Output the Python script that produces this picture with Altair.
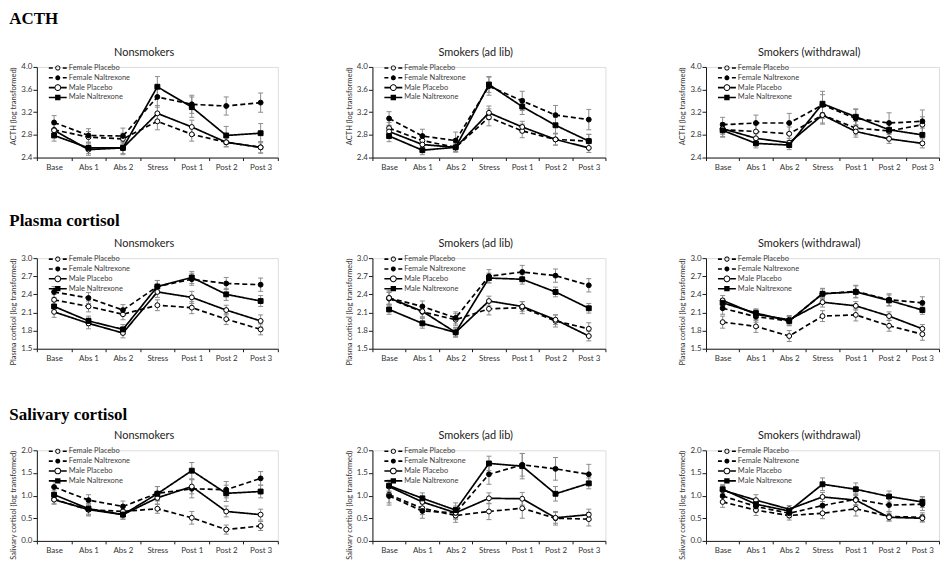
import math
import altair as alt
import pandas as pd

TIMES = ["Base", "Abs 1", "Abs 2", "Stress", "Post 1", "Post 2", "Post 3"]
SERIES = ["Female Placebo", "Female Naltrexone", "Male Placebo", "Male Naltrexone"]
GROUPS = ["Nonsmokers", "Smokers (ad lib)", "Smokers (withdrawal)"]
MEASURES = ["ACTH", "Plasma cortisol", "Salivary cortisol"]

# each panel: [Female Placebo, Female Naltrexone, Male Placebo, Male Naltrexone]
acth_nonsmokers = [
    [2.89, 2.76, 2.73, 3.04, 2.81, 2.67, 2.58],
    [3.02, 2.79, 2.78, 3.47, 3.34, 3.31, 3.37],
    [2.88, 2.54, 2.57, 3.18, 2.94, 2.67, 2.58],
    [2.79, 2.57, 2.57, 3.65, 3.29, 2.79, 2.83],
]
acth_nonsmokers_se = [
    [0.10, 0.10, 0.10, 0.15, 0.12, 0.08, 0.10],
    [0.12, 0.12, 0.14, 0.18, 0.16, 0.16, 0.17],
    [0.10, 0.10, 0.10, 0.14, 0.12, 0.08, 0.10],
    [0.10, 0.10, 0.12, 0.18, 0.18, 0.16, 0.17],
]
acth_adlib = [
    [2.92, 2.70, 2.58, 3.11, 2.87, 2.72, 2.69],
    [3.09, 2.78, 2.70, 3.66, 3.40, 3.15, 3.07],
    [2.86, 2.63, 2.58, 3.19, 2.94, 2.72, 2.57],
    [2.78, 2.53, 2.58, 3.69, 3.30, 2.97, 2.69],
]
acth_adlib_se = [
    [0.10, 0.10, 0.08, 0.15, 0.12, 0.10, 0.12],
    [0.12, 0.12, 0.15, 0.16, 0.17, 0.17, 0.18],
    [0.10, 0.10, 0.08, 0.12, 0.10, 0.10, 0.08],
    [0.10, 0.08, 0.08, 0.14, 0.14, 0.14, 0.12],
]
acth_withdrawal = [
    [2.89, 2.86, 2.82, 3.15, 2.92, 2.87, 2.98],
    [2.98, 3.01, 3.01, 3.33, 3.09, 3.01, 3.04],
    [2.91, 2.74, 2.66, 3.15, 2.86, 2.73, 2.65],
    [2.88, 2.65, 2.62, 3.35, 3.12, 2.89, 2.80],
]
acth_withdrawal_se = [
    [0.12, 0.12, 0.12, 0.16, 0.12, 0.12, 0.14],
    [0.13, 0.14, 0.17, 0.24, 0.16, 0.18, 0.20],
    [0.10, 0.08, 0.08, 0.14, 0.10, 0.08, 0.08],
    [0.12, 0.08, 0.08, 0.16, 0.14, 0.12, 0.12],
]
plasma_nonsmokers = [
    [2.31, 2.20, 2.07, 2.22, 2.18, 1.99, 1.82],
    [2.44, 2.34, 2.14, 2.53, 2.65, 2.58, 2.56],
    [2.11, 1.92, 1.76, 2.44, 2.35, 2.14, 1.96],
    [2.20, 1.96, 1.82, 2.53, 2.68, 2.40, 2.29],
]
plasma_nonsmokers_se = [
    [0.09, 0.09, 0.09, 0.09, 0.10, 0.09, 0.09],
    [0.09, 0.09, 0.09, 0.10, 0.10, 0.10, 0.11],
    [0.09, 0.09, 0.08, 0.09, 0.10, 0.08, 0.10],
    [0.08, 0.08, 0.08, 0.10, 0.10, 0.10, 0.09],
]
plasma_adlib = [
    [2.33, 2.11, 1.98, 2.16, 2.18, 1.96, 1.83],
    [2.34, 2.20, 2.01, 2.70, 2.77, 2.71, 2.55],
    [2.34, 2.12, 1.77, 2.29, 2.20, 1.98, 1.71],
    [2.15, 1.92, 1.77, 2.67, 2.65, 2.44, 2.17],
]
plasma_adlib_se = [
    [0.10, 0.09, 0.10, 0.10, 0.10, 0.10, 0.10],
    [0.12, 0.09, 0.10, 0.11, 0.11, 0.11, 0.11],
    [0.10, 0.09, 0.08, 0.08, 0.08, 0.08, 0.08],
    [0.08, 0.08, 0.07, 0.08, 0.08, 0.08, 0.08],
]
plasma_withdrawal = [
    [1.94, 1.87, 1.71, 2.04, 2.06, 1.88, 1.74],
    [2.17, 2.03, 1.96, 2.41, 2.45, 2.31, 2.26],
    [2.30, 2.07, 1.98, 2.27, 2.21, 2.04, 1.83],
    [2.26, 2.09, 1.96, 2.41, 2.44, 2.30, 2.14],
]
plasma_withdrawal_se = [
    [0.10, 0.10, 0.09, 0.09, 0.10, 0.09, 0.10],
    [0.10, 0.09, 0.08, 0.09, 0.10, 0.10, 0.10],
    [0.08, 0.08, 0.07, 0.08, 0.07, 0.07, 0.07],
    [0.07, 0.07, 0.07, 0.08, 0.10, 0.09, 0.07],
]
saliva_nonsmokers = [
    [0.92, 0.69, 0.65, 0.71, 0.51, 0.25, 0.33],
    [1.19, 0.90, 0.76, 1.05, 1.15, 1.13, 1.38],
    [0.91, 0.69, 0.58, 0.95, 1.20, 0.65, 0.58],
    [1.02, 0.71, 0.58, 1.04, 1.55, 1.05, 1.09],
]
saliva_nonsmokers_se = [
    [0.10, 0.14, 0.12, 0.10, 0.14, 0.10, 0.10],
    [0.12, 0.12, 0.12, 0.15, 0.20, 0.18, 0.15],
    [0.10, 0.12, 0.10, 0.14, 0.16, 0.12, 0.12],
    [0.10, 0.12, 0.10, 0.16, 0.18, 0.18, 0.14],
]
saliva_adlib = [
    [1.02, 0.72, 0.56, 0.65, 0.72, 0.50, 0.48],
    [0.99, 0.66, 0.62, 1.47, 1.68, 1.59, 1.47],
    [1.20, 0.86, 0.62, 0.94, 0.93, 0.51, 0.58],
    [1.22, 0.94, 0.68, 1.71, 1.65, 1.04, 1.27],
]
saliva_adlib_se = [
    [0.18, 0.14, 0.15, 0.18, 0.22, 0.15, 0.15],
    [0.20, 0.16, 0.15, 0.22, 0.25, 0.25, 0.22],
    [0.12, 0.12, 0.12, 0.12, 0.14, 0.12, 0.12],
    [0.12, 0.12, 0.16, 0.16, 0.28, 0.16, 0.12],
]
saliva_withdrawal = [
    [0.86, 0.68, 0.56, 0.61, 0.71, 0.54, 0.52],
    [0.99, 0.76, 0.61, 0.78, 0.92, 0.79, 0.81],
    [1.12, 0.90, 0.70, 0.97, 0.90, 0.52, 0.50],
    [1.14, 0.81, 0.66, 1.25, 1.14, 0.98, 0.86],
]
saliva_withdrawal_se = [
    [0.12, 0.12, 0.10, 0.12, 0.16, 0.10, 0.10],
    [0.12, 0.12, 0.10, 0.16, 0.12, 0.14, 0.14],
    [0.10, 0.12, 0.08, 0.10, 0.12, 0.08, 0.08],
    [0.10, 0.10, 0.08, 0.14, 0.14, 0.12, 0.12],
]

FONT = "Lato"
TEXT_COLOR = "#333333"
AXIS_COLOR = "#1a1a1a"
ERR_COLOR = "#8c8c8c"

MARK_SHAPES = ["circle", "circle", "circle", "square"]
MARK_FILLS = ["white", "black", "white", "black"]
MARK_SIZES = [24, 24, 44, 36]
DASHES = [[5, 3], [5, 3], [1, 0], [1, 0]]

# ---- legend glyphs (line sample + marker), drawn as filled outlines ----
U = 4.0  # pixels per path unit for legend symbolSize 64


def _poly(r, reverse=False, n=18):
    pts = [(r * math.cos(2 * math.pi * k / n), r * math.sin(2 * math.pi * k / n)) for k in range(n)]
    if reverse:
        pts = pts[::-1]
    return "M" + "L".join(f"{px / U:.3f},{py / U:.3f}" for px, py in pts) + "Z"


def _bar(x0, x1, h=0.8):
    return f"M{x0 / U:.3f},{-h / U:.3f}H{x1 / U:.3f}V{h / U:.3f}H{x0 / U:.3f}Z"


def _square(a):
    return f"M{-a / U:.3f},{-a / U:.3f}H{a / U:.3f}V{a / U:.3f}H{-a / U:.3f}Z"


LEGEND_PATHS = [
    _bar(-9, -5) + _bar(5, 9) + _poly(2.6) + _poly(1.7, reverse=True),
    _bar(-9, -5) + _bar(5, 9) + _poly(2.5),
    _bar(-9, -3.4) + _bar(3.4, 9) + _poly(3.4) + _poly(2.4, reverse=True),
    _bar(-9, -2.7) + _bar(2.7, 9) + _square(2.7),
]


def make_frame(means, ses):
    rows = []
    for s, mv, sv in zip(SERIES, means, ses):
        for i, (t, m, e) in enumerate(zip(TIMES, mv, sv)):
            rows.append({"series": s, "time": t, "idx": i, "mean": m,
                         "lo": m - e, "hi": m + e})
    return pd.DataFrame(rows)


def legend_def():
    return alt.Legend(
        title=None, orient="none", legendX=12, legendY=-3,
        symbolSize=64, symbolStrokeWidth=0, symbolOpacity=1,
        symbolFillColor="black", rowPadding=1.9, symbolOffset=5, labelOffset=7,
        padding=0, labelFont=FONT, labelFontSize=7.5, labelColor="#404040",
    )


def panel(means, ses, group, ytitle, ydomain, yticks, width, height=91):
    df = make_frame(means, ses)
    x = alt.X(
        "time:N", sort=TIMES, bandPosition=0.5,
        scale=alt.Scale(type="band", domain=TIMES, paddingInner=0, paddingOuter=0),
        axis=alt.Axis(title=None, labelAngle=0, tickBand="extent", tickSize=3,
                      labelPadding=3, labelFont=FONT, labelFontSize=8,
                      labelColor=TEXT_COLOR, domainColor=AXIS_COLOR,
                      tickColor=AXIS_COLOR, grid=False),
    )
    yscale = alt.Scale(domain=ydomain, nice=False, zero=False)
    yaxis = alt.Axis(values=yticks, format=".1f", grid=False, tickSize=4,
                     labelPadding=1, labelFont=FONT, labelFontSize=8,
                     labelColor=TEXT_COLOR, domainColor=AXIS_COLOR,
                     tickColor=AXIS_COLOR, titleFont=FONT, titleFontSize=7.5,
                     titleFontWeight="normal", titleColor=TEXT_COLOR,
                     titleAnchor="end", titlePadding=3)
    base = alt.Chart(df)
    err = base.mark_rule(color=ERR_COLOR, strokeWidth=1).encode(
        x=x, y=alt.Y("lo:Q", scale=yscale, axis=yaxis, title=ytitle), y2="hi:Q")
    cap_lo = base.mark_tick(color=ERR_COLOR, size=5, thickness=1, opacity=1).encode(
        x=x, y=alt.Y("lo:Q", scale=yscale, axis=yaxis, title=ytitle))
    cap_hi = base.mark_tick(color=ERR_COLOR, size=5, thickness=1, opacity=1).encode(
        x=x, y=alt.Y("hi:Q", scale=yscale, axis=yaxis, title=ytitle))
    lines = base.mark_line(color="black", strokeWidth=1.7).encode(
        x=x, y=alt.Y("mean:Q", scale=yscale, axis=yaxis, title=ytitle),
        strokeDash=alt.StrokeDash("series:N", scale=alt.Scale(domain=SERIES, range=DASHES), legend=None),
        order="idx:Q",
    )
    pts = base.mark_point(filled=True, opacity=1, stroke="black", strokeWidth=1).encode(
        x=x, y=alt.Y("mean:Q", scale=yscale, axis=yaxis, title=ytitle),
        shape=alt.Shape("series:N", scale=alt.Scale(domain=SERIES, range=MARK_SHAPES), legend=None),
        fill=alt.Fill("series:N", scale=alt.Scale(domain=SERIES, range=MARK_FILLS), legend=None),
        size=alt.Size("series:N", scale=alt.Scale(domain=SERIES, range=MARK_SIZES), legend=None),
    )
    leg = alt.Chart(pd.DataFrame({"series": SERIES})).mark_point(
        filled=True, color="black", opacity=0, strokeWidth=0).encode(
        shape=alt.Shape("series:N", scale=alt.Scale(domain=SERIES, range=LEGEND_PATHS), legend=legend_def()),
    )
    return alt.layer(err, cap_lo, cap_hi, lines, pts, leg).resolve_scale(
        shape="independent"
    ).properties(
        width=width, height=height,
        title=alt.TitleParams(group, font=FONT, fontSize=11, fontWeight="normal",
                              color="#222222", offset=5, frame="bounds"),
    )


def row(title, offset, panels):
    inner = alt.hconcat(panels[0], panels[1], spacing=66)
    return alt.hconcat(inner, panels[2], spacing=72).properties(
        title=alt.TitleParams(title, anchor="start", font="Liberation Serif",
                              fontSize=17, fontWeight="bold", color="black",
                              offset=offset)
    )


WIDTHS = [242, 234, 234]

acth_row = row(MEASURES[0], 19, [
    panel(m, s, g, "ACTH (log transformed)", [2.4, 4.0], [2.4, 2.8, 3.2, 3.6, 4.0], w)
    for m, s, g, w in zip([acth_nonsmokers, acth_adlib, acth_withdrawal],
                          [acth_nonsmokers_se, acth_adlib_se, acth_withdrawal_se], GROUPS, WIDTHS)
])
plasma_row = row(MEASURES[1], 8, [
    panel(m, s, g, "Plasma cortisol (log transformed)", [1.5, 3.0], [1.5, 1.8, 2.1, 2.4, 2.7, 3.0], w)
    for m, s, g, w in zip([plasma_nonsmokers, plasma_adlib, plasma_withdrawal],
                          [plasma_nonsmokers_se, plasma_adlib_se, plasma_withdrawal_se], GROUPS, WIDTHS)
])
saliva_row = row(MEASURES[2], 6, [
    panel(m, s, g, "Salivary cortisol (log transformed)", [0.0, 2.0], [0.0, 0.5, 1.0, 1.5, 2.0], w)
    for m, s, g, w in zip([saliva_nonsmokers, saliva_adlib, saliva_withdrawal],
                          [saliva_nonsmokers_se, saliva_adlib_se, saliva_withdrawal_se], GROUPS, WIDTHS)
])

chart = alt.vconcat(acth_row, plasma_row, saliva_row, spacing=39).properties(
    padding={"left": 1, "top": 0, "right": 0, "bottom": 0}
).configure_view(stroke=None).configure(background="white")

chart.save("out.html", embed_options={"renderer": "svg", "actions": False})
